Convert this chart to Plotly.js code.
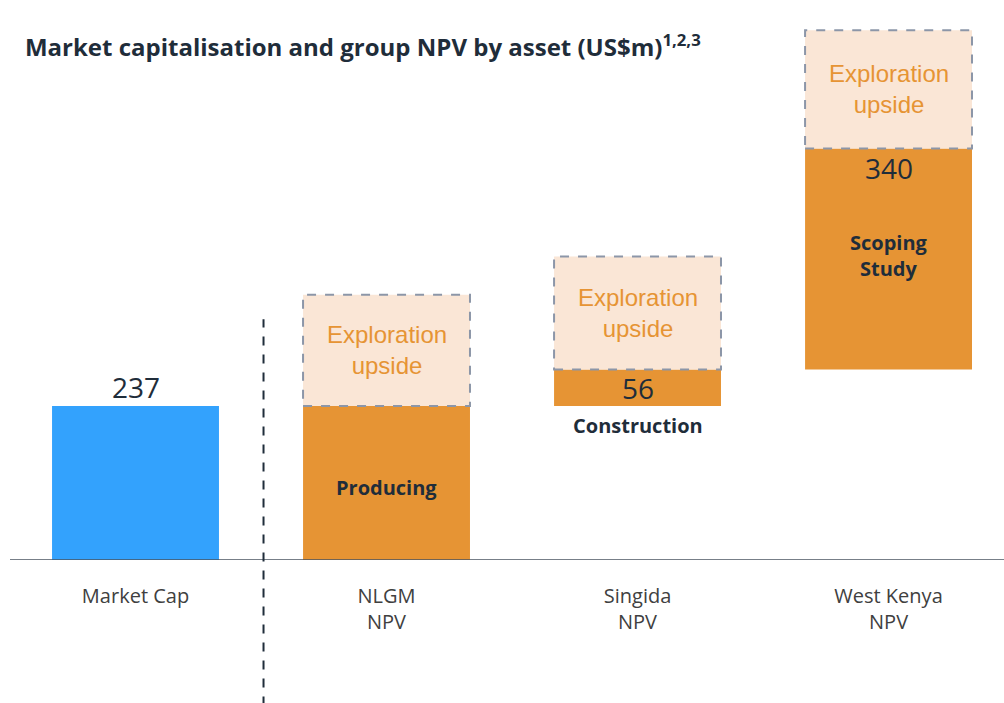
<!DOCTYPE html>
<html>
<head>
<meta charset="utf-8">
<script src="https://cdn.plot.ly/plotly-3.0.1.min.js"></script>
<style>html,body{margin:0;padding:0;background:#fff;}#chart{width:1004px;height:703px;}</style>
</head>
<body>
<div id="chart"></div>
<script>
// ---- data ----
const categories = ["Market Cap", "NLGM<br>NPV", "Singida<br>NPV", "West Kenya<br>NPV"];
const marketCap = 237;
const assetNames = ["NLGM", "Singida", "West Kenya"];
const assetNPV = [237, 56, 340];
const assetStage = ["Producing", "Construction", "Scoping<br>Study"];
const explorationUpside = [171, 174, 182]; // illustrative box heights (US$m scale)

// ---- derived ----
const assetX = [1, 2, 3];
const assetBase = [];
let run = 0;
assetNPV.forEach(v => { assetBase.push(run); run += v; });
const assetTop = assetNPV.map((v, i) => assetBase[i] + v);

const BW = 0.665;
const orange = "#e69434", blue = "#33a2fd", peach = "#fae6d6", dark = "#1f2d3a";

const traces = [
  {type: "bar", x: [0], y: [marketCap], width: BW, marker: {color: blue}, hoverinfo: "none"},
  {type: "bar", x: assetX, y: assetNPV, base: assetBase, width: BW, marker: {color: orange}, hoverinfo: "none"},
  {type: "bar", x: assetX, y: explorationUpside, base: assetTop, width: BW, marker: {color: peach}, hoverinfo: "none"}
];

const shapes = [
  {type: "line", xref: "paper", yref: "y", x0: 0, x1: 1, y0: 0, y1: 0, line: {color: "#4a5560", width: 1.5}},
  {type: "line", xref: "x", yref: "paper", x0: 0.51, x1: 0.51, y0: -0.26, y1: 0.43, line: {color: dark, width: 2, dash: "dash"}}
];
assetX.forEach((x, i) => {
  shapes.push({type: "rect", xref: "x", yref: "y", x0: x - BW / 2, x1: x + BW / 2,
    y0: assetTop[i], y1: assetTop[i] + explorationUpside[i],
    line: {color: "#8c96a8", width: 2, dash: "dash"}, fillcolor: "rgba(0,0,0,0)"});
});

const numFont = {family: "Open Sans, sans-serif", size: 28, color: dark};
const stageFont = {family: "Open Sans, sans-serif", size: 20, color: dark, weight: 700};
const annotations = [
  {x: 0, y: marketCap, text: String(marketCap), showarrow: false, yanchor: "bottom", yshift: -2, font: numFont},
  {x: 1, y: 112, text: "<b>" + assetStage[0] + "</b>", showarrow: false, font: stageFont},
  {x: 2, y: assetBase[1] + assetNPV[1] / 2, text: String(assetNPV[1]), showarrow: false, font: numFont},
  {x: 2, y: assetBase[1], text: "<b>" + assetStage[1] + "</b>", showarrow: false, yanchor: "top", yshift: -4, font: stageFont},
  {x: 3, y: assetTop[2], text: String(assetNPV[2]), showarrow: false, yanchor: "top", yshift: 2, font: numFont},
  {x: 3, y: assetTop[2] - 165, text: "<b>" + assetStage[2] + "</b>", showarrow: false, font: stageFont}
];
assetX.forEach((x, i) => {
  annotations.push({x: x, y: assetTop[i] + explorationUpside[i] / 2, text: "Exploration<br>upside",
    showarrow: false, font: {family: "Liberation Sans, Arial, sans-serif", size: 24, color: orange}});
});

const layout = {
  width: 1004, height: 703,
  margin: {l: 10, r: 0, t: 0, b: 143},
  paper_bgcolor: "#fff", plot_bgcolor: "#fff",
  showlegend: false,
  barmode: "overlay",
  title: {text: "<b>Market capitalisation and group NPV by asset (US$m)<sup>1,2,3</sup></b>",
    x: 0.015, xanchor: "left", xref: "paper", y: 0.932, yanchor: "middle", yref: "container",
    font: {family: "Open Sans, sans-serif", size: 24, color: dark}},
  xaxis: {range: [-0.5, 3.46], tickvals: [0, 1, 2, 3], ticktext: categories, showgrid: false,
    zeroline: false, showline: false, ticks: "", ticklabelstandoff: 22,
    tickfont: {family: "Open Sans, sans-serif", size: 20, color: "#404040"}, fixedrange: true},
  yaxis: {range: [0, 861.5], visible: false, showgrid: false, zeroline: false, fixedrange: true},
  shapes: shapes,
  annotations: annotations
};

Plotly.newPlot("chart", traces, layout, {displayModeBar: false, staticPlot: true});
</script>
</body>
</html>
